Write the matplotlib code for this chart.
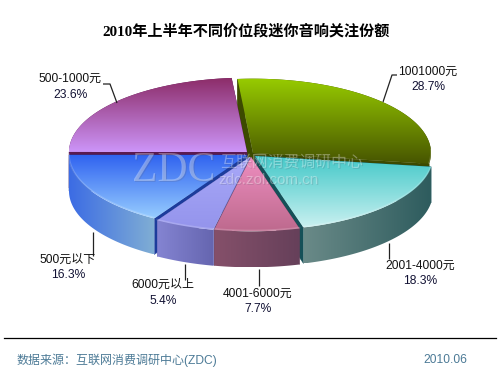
import numpy as np
import matplotlib
matplotlib.use("Agg")
import matplotlib.pyplot as plt
from matplotlib.patches import Polygon
from matplotlib.colors import to_rgb

SANS = ['Liberation Sans', 'Noto Sans CJK SC']
SERIF = ['Liberation Serif', 'Noto Sans CJK SC']

title = '2010年上半年不同价位段迷你音响关注份额'
categories = ['1001000元', '2001-4000元', '4001-6000元', '6000元以上', '500元以下', '500-1000元']
shares = [28.7, 18.3, 7.7, 5.4, 16.3, 23.6]
source_text = '数据来源：互联网消费调研中心(ZDC)'
date_text = '2010.06'

# styling per slice, same order as categories
centers = [(253, 153), (255, 156), (251, 157), (250, 157), (247, 155), (247, 152)]
top_grad = [('#97CB00', '#475500'), ('#42C8C8', '#C8F0F0'), ('#EE8EC0', '#BE6A8E'),
            ('#A8A8F8', '#9494EC'), ('#2F62F0', '#96CCFF'), ('#8C2C68', '#CC94F8')]
side_grad = [('#3C4A00', '#3C4A00'), ('#6A8A88', '#2E5C5E'), ('#85506A', '#66405A'),
             ('#8484D2', '#6666B0'), ('#3C6CE4', '#80AED4'), ('#5A1A50', '#5A1A50')]
wall_col = ['#3C4A00', '#155058', '#66405A', '#6A6AB4', '#1C3C9C', '#5A1A50']
# labels: text anchor and leader line
label_pos = [(428, 72), (420, 266), (258, 294), (163, 285), (68, 260), (70, 79)]
leaders = [[(383, 102), (392, 75), (397, 75)], [(389, 243), (389, 259)], [(259, 269), (259, 286)],
           [(185, 264), (185, 280)], [(93, 232), (93, 256)], [(117, 103), (110, 84), (103, 84)]]

RX, RY, DEPTH = 178, 74.3, 36
START = 95.0

fig = plt.figure(figsize=(5, 3.75), dpi=100)
ax = fig.add_axes([0, 0, 1, 1])
ax.set_xlim(0, 500)
ax.set_ylim(375, 0)
ax.axis('off')


def gradient(poly_pts, c0, c1, horizontal=False, z=1):
    pts = np.asarray(poly_pts)
    x0, x1, y0, y1 = pts[:, 0].min(), pts[:, 0].max(), pts[:, 1].min(), pts[:, 1].max()
    t = np.linspace(0, 1, 64)
    a, b = np.array(to_rgb(c0)), np.array(to_rgb(c1))
    ramp = a[None, :] * (1 - t[:, None]) + b[None, :] * t[:, None]
    img = ramp[None, :, :] if horizontal else ramp[:, None, :]
    im = ax.imshow(img, extent=(x0, x1, y1, y0), aspect='auto', zorder=z, interpolation='bilinear')
    clip = Polygon(pts, closed=True, transform=ax.transData)
    im.set_clip_path(clip)


def arc(c, a0, a1, dy=0):
    th = np.radians(np.linspace(a0, a1, 80))
    return np.column_stack([c[0] + RX * np.cos(th), c[1] - RY * np.sin(th) + dy])


angles = START - np.concatenate([[0], np.cumsum(shares)]) * 3.6

z = 2


def draw_slice(i):
    global z
    c = centers[i]
    a0, a1 = angles[i], angles[i + 1]
    top = arc(c, a0, a1)
    bottom = arc(c, a0, a1, DEPTH)
    # end walls
    for edge in (top[0], top[-1]):
        wall = [c, tuple(edge), (edge[0], edge[1] + DEPTH), (c[0], c[1] + DEPTH)]
        ax.add_patch(Polygon(wall, closed=True, fc=wall_col[i], ec=wall_col[i], lw=0.3, zorder=z))
    z += 1
    # outer skin
    gradient(np.vstack([top, bottom[::-1]]), side_grad[i][0], side_grad[i][1], horizontal=True, z=z)
    z += 1
    # top face
    gradient(np.vstack([[c], top]), top_grad[i][0], top_grad[i][1], z=z)
    z += 1
    # bevel highlight on the front rim
    th = np.linspace(a0, a1, 80)
    front = top[np.sin(np.radians(th)) < 0.05]
    if len(front):
        ax.plot(front[:, 0], front[:, 1] - 0.8, color='white', alpha=0.18, lw=1.2, zorder=z)
    z += 1


for i in [0, 5, 1, 4, 3, 2]:
    draw_slice(i)

# watermark
for dx, col, al in [(1.2, '#555566', 0.18), (0, 'white', 0.33)]:
    wm = dict(color=col, alpha=al, zorder=z, va='center')
    ax.text(132 + dx, 171 + dx, 'ZDC', family=SERIF, fontsize=30, ha='left', **wm)
    ax.text(220 + dx, 163 + dx, '互联网消费调研中心', family=SANS, fontsize=11.4, ha='left', **wm)
    ax.text(218 + dx, 180 + dx, 'zdc.zol.com.cn', family=SANS, fontsize=11, ha='left', **wm)
z += 1

# leaders and labels
for cat, share, pos, line in zip(categories, shares, label_pos, leaders):
    xs, ys = zip(*line)
    ax.plot(xs, ys, color='#222222', lw=0.9, zorder=z, solid_capstyle='butt')
    ax.text(pos[0], pos[1], cat, family=SANS, fontsize=8.64, ha='center', va='center', color='#111111', zorder=z)
    ax.text(pos[0], pos[1] + 15.5, f'{share:.1f}%', family=SANS, fontsize=8.64, ha='center', va='center', color='#111133', zorder=z)

ax.text(246, 31, title, family=SERIF, fontsize=10.9, fontweight='bold', ha='center', va='center', color='black')
ax.plot([4, 496], [338, 338], color='black', lw=0.9)
ax.text(17, 360, source_text, family=SANS, fontsize=8.64, ha='left', va='center', color='#4C7A96')
ax.text(467, 360, date_text, family=SANS, fontsize=8.64, ha='right', va='center', color='#4C7A96')
ax.set_xlim(0, 500)
ax.set_ylim(375, 0)
fig.savefig('out.png', dpi=100)
